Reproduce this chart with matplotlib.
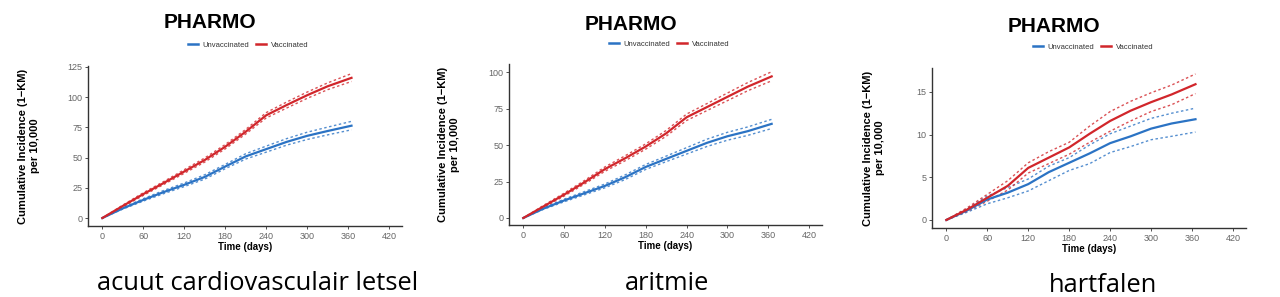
import numpy as np
import matplotlib.pyplot as plt
from matplotlib.lines import Line2D

# time grid (days)
days = [0, 30, 60, 90, 120, 150, 180, 210, 240, 270, 300, 330, 365]

# acuut cardiovasculair letsel
acl_vac = [0, 10, 19.8, 29, 38.5, 48, 59, 71.4, 85, 93.5, 101.6, 109, 116]
acl_vac_lo = [0, 9.3, 18.7, 27.8, 37, 46.3, 57.2, 69.5, 82.8, 91, 99, 106.2, 113]
acl_vac_hi = [0, 10.7, 20.9, 30.2, 40, 49.7, 60.8, 73.3, 87.2, 96, 104.2, 111.8, 119.5]
acl_unv = [0, 8, 15, 21.5, 27.5, 34, 42.6, 51, 57, 63, 68, 72, 76.4]
acl_unv_lo = [0, 7.4, 14, 20.2, 26, 32.2, 40.8, 48.8, 54.5, 60.3, 65, 68.8, 73]
acl_unv_hi = [0, 8.6, 16, 22.8, 29, 35.8, 44.4, 53.2, 59.5, 65.7, 71, 75.2, 80]

# aritmie
ari_vac = [0, 8, 16, 24.5, 33.5, 41, 49, 58, 69, 76, 83, 90, 97]
ari_vac_lo = [0, 7.3, 15, 23.3, 32, 39.3, 47.2, 56, 66.8, 73.6, 80.4, 87.2, 94]
ari_vac_hi = [0, 8.7, 17, 25.7, 35, 42.7, 50.8, 60, 71.2, 78.4, 85.6, 92.8, 100.2]
ari_unv = [0, 6.5, 12, 17, 22, 28, 35, 40.5, 46, 51.5, 56, 59.5, 64.5]
ari_unv_lo = [0, 6, 11.1, 15.9, 20.7, 26.4, 33.3, 38.6, 43.8, 49, 53.3, 56.6, 61.3]
ari_unv_hi = [0, 7, 12.9, 18.1, 23.3, 29.6, 36.7, 42.4, 48.2, 54, 58.7, 62.4, 67.6]

# hartfalen
hf_vac = [0, 1.2, 2.6, 4.0, 6.1, 7.3, 8.5, 10.1, 11.6, 12.8, 13.8, 14.7, 15.9]
hf_vac_lo = [0, 1.0, 2.2, 3.5, 5.5, 6.6, 7.7, 9.1, 10.4, 11.6, 12.7, 13.5, 14.8]
hf_vac_hi = [0, 1.4, 3.0, 4.6, 6.7, 8.0, 9.1, 11.0, 12.7, 13.9, 14.9, 15.8, 17.1]
hf_unv = [0, 1.1, 2.4, 3.2, 4.2, 5.6, 6.7, 7.8, 9.0, 9.8, 10.7, 11.3, 11.8]
hf_unv_lo = [0, 0.9, 1.9, 2.6, 3.4, 4.6, 5.8, 6.6, 7.9, 8.6, 9.4, 9.8, 10.3]
hf_unv_hi = [0, 1.3, 2.8, 3.8, 4.8, 6.3, 7.3, 8.8, 10.1, 11.0, 11.9, 12.5, 13.1]

captions = ['acuut cardiovasculair letsel', 'aritmie', 'hartfalen']
y_ticks = [[0, 25, 50, 75, 100, 125], [0, 25, 50, 75, 100], [0, 5, 10, 15]]
y_lims = [(-6.6, 125.8), (-4.8, 105.5), (-0.94, 17.8)]
x_ticks = [0, 60, 120, 180, 240, 300, 360, 420]

blue = '#2b73c4'
red = '#d1262b'

W, H = 1280, 297
fig = plt.figure(figsize=(W / 100, H / 100), dpi=100)
plt.rcParams['font.family'] = ['Liberation Sans', 'DejaVu Sans']

# axes boxes in pixels: left, right, top, bottom
boxes = [(88, 402, 66, 226), (509, 822, 64, 225), (932, 1246, 68, 228)]
ylabel_x = [-0.153, -0.157, -0.15]
title_pos = [(210, 22), (631, 24), (1054, 27)]
legend_pos = [(248, 45), (669, 44), (1093, 47)]
caption_pos = [(258, 283), (667, 283), (1103, 285)]

series = [
    (acl_vac, acl_vac_lo, acl_vac_hi, acl_unv, acl_unv_lo, acl_unv_hi),
    (ari_vac, ari_vac_lo, ari_vac_hi, ari_unv, ari_unv_lo, ari_unv_hi),
    (hf_vac, hf_vac_lo, hf_vac_hi, hf_unv, hf_unv_lo, hf_unv_hi),
]

dash = (0, (1.8, 1.8))

for i, (l, r, t, b) in enumerate(boxes):
    ax = fig.add_axes([l / W, 1 - b / H, (r - l) / W, (b - t) / H])
    vac, vlo, vhi, unv, ulo, uhi = series[i]
    ax.plot(days, ulo, color=blue, lw=1.0, ls=dash, alpha=0.8)
    ax.plot(days, uhi, color=blue, lw=1.0, ls=dash, alpha=0.8)
    ax.plot(days, vlo, color=red, lw=1.0, ls=dash, alpha=0.8)
    ax.plot(days, vhi, color=red, lw=1.0, ls=dash, alpha=0.8)
    ax.plot(days, unv, color=blue, lw=1.6)
    ax.plot(days, vac, color=red, lw=1.6)

    ax.set_xlim(-21, 439)
    ax.set_ylim(*y_lims[i])
    ax.set_xticks(x_ticks)
    ax.set_yticks(y_ticks[i])
    for s in ['top', 'right']:
        ax.spines[s].set_visible(False)
    for s in ['left', 'bottom']:
        ax.spines[s].set_color('#333333')
        ax.spines[s].set_linewidth(1.0)
    ax.tick_params(labelsize=6.5, labelcolor='#666666', color='#333333',
                   length=2, width=0.6, pad=2)
    ax.set_xlabel('Time (days)', fontsize=7, fontweight='bold', labelpad=1)
    ax.set_ylabel('Cumulative Incidence (1\u2212KM)\nper 10,000', fontsize=8,
                  fontweight='bold', linespacing=1.25)
    ax.yaxis.set_label_coords(ylabel_x[i], 0.5)

    tx, ty = title_pos[i]
    fig.text(tx / W, 1 - ty / H, 'PHARMO', fontsize=15, fontweight='bold',
             ha='center', va='center')

    lx, ly = legend_pos[i]
    handles = [Line2D([], [], color=blue, lw=1.8), Line2D([], [], color=red, lw=1.8)]
    fig.legend(handles, ['Unvaccinated', 'Vaccinated'], loc='center',
               bbox_to_anchor=(lx / W, 1 - ly / H), ncol=2, frameon=False,
               fontsize=5.5, handlelength=1.3, handletextpad=0.6, columnspacing=0.9,
               labelcolor='#333333')

    cx, cy = caption_pos[i]
    fig.text(cx / W, 1 - cy / H, captions[i], fontsize=18.4, family='Open Sans',
             ha='center', va='center')

fig.savefig('out.png', dpi=100)
